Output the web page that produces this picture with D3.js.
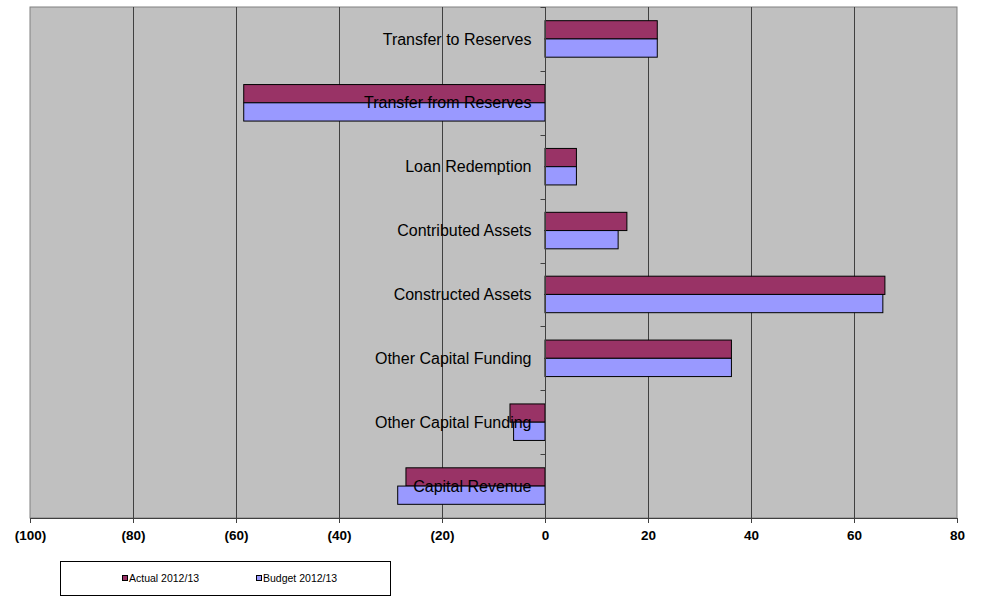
<!DOCTYPE html>
<html>
<head>
<meta charset="utf-8">
<script src="https://cdn.jsdelivr.net/npm/d3@7"></script>
<style>
  body { margin: 0; background: #fff; }
  svg text { font-family: "Liberation Sans", Arial, sans-serif; }
</style>
</head>
<body>
<div id="chart"></div>
<script>
// chart data, top to bottom
const categories = [
  'Transfer to Reserves',
  'Transfer from Reserves',
  'Loan Redemption',
  'Contributed Assets',
  'Constructed Assets',
  'Other Capital Funding',
  'Other Capital Funding',
  'Capital Revenue',
];
const actual = [21.8, -58.5, 6.1, 15.9, 66.0, 36.2, -6.8, -27.0];
const budget = [21.8, -58.5, 6.1, 14.2, 65.6, 36.2, -6.1, -28.6];
const seriesNames = ['Actual 2012/13', 'Budget 2012/13'];
const seriesColors = ['#993366', '#9999FF'];
const xTicks = [-100, -80, -60, -40, -20, 0, 20, 40, 60, 80];

const width = 984;
const height = 597;
const plot = { left: 30, top: 7, right: 957, bottom: 518 };

const svg = d3.select('#chart').append('svg')
  .attr('width', width)
  .attr('height', height);

const x = d3.scaleLinear().domain([-100, 80]).range([plot.left, plot.right]);
const y = d3.scaleBand()
  .domain(categories.map((d, i) => i))
  .range([plot.top, plot.bottom]);
// two bars plus a 150% gap in each band
const barH = y.bandwidth() / 3.5;
const barOffset = (y.bandwidth() - 2 * barH) / 2;

svg.append('rect')
  .attr('x', plot.left)
  .attr('y', plot.top)
  .attr('width', plot.right - plot.left)
  .attr('height', plot.bottom - plot.top)
  .attr('fill', '#C0C0C0')
  .attr('stroke', '#808080')
  .attr('stroke-width', 1);

// vertical gridlines
svg.append('g')
  .selectAll('line')
  .data(xTicks.filter(t => t !== -100 && t !== 80))
  .enter().append('line')
  .attr('x1', d => Math.round(x(d)) + 0.5)
  .attr('x2', d => Math.round(x(d)) + 0.5)
  .attr('y1', plot.top)
  .attr('y2', plot.bottom)
  .attr('stroke', '#404040')
  .attr('stroke-width', 1);

// bars
const rows = categories.map((c, i) => ({ i, values: [actual[i], budget[i]] }));
const g = svg.append('g');
rows.forEach((row) => {
  row.values.forEach((v, s) => {
    const x0 = x(Math.min(0, v));
    const x1 = x(Math.max(0, v));
    g.append('rect')
      .attr('x', x0)
      .attr('y', y(row.i) + barOffset + s * barH)
      .attr('width', x1 - x0)
      .attr('height', barH)
      .attr('fill', seriesColors[s])
      .attr('stroke', '#000')
      .attr('stroke-width', 1);
  });
});

// category axis at zero
const zeroX = Math.round(x(0)) + 0.5;
svg.append('line')
  .attr('x1', zeroX).attr('x2', zeroX)
  .attr('y1', plot.top).attr('y2', plot.bottom)
  .attr('stroke', '#404040');

svg.append('g')
  .selectAll('line')
  .data(d3.range(categories.length))
  .enter().append('line')
  .attr('x1', zeroX - 5)
  .attr('x2', zeroX)
  .attr('y1', d => Math.round(y(d)) + 0.5)
  .attr('y2', d => Math.round(y(d)) + 0.5)
  .attr('stroke', '#404040');

svg.append('g')
  .selectAll('text')
  .data(categories)
  .enter().append('text')
  .attr('x', zeroX - 14)
  .attr('y', (d, i) => y(i) + y.bandwidth() / 2)
  .attr('dy', '0.35em')
  .attr('text-anchor', 'end')
  .attr('font-size', 16)
  .attr('fill', '#000')
  .text(d => d);

// value axis
const xAxis = d3.axisBottom(x)
  .tickValues(xTicks)
  .tickSize(5)
  .tickPadding(7)
  .tickFormat(d => (d < 0 ? `(${-d})` : `${d}`));

const ax = svg.append('g')
  .attr('transform', `translate(0,${plot.bottom})`)
  .call(xAxis);
ax.select('.domain').attr('stroke', '#404040');
ax.selectAll('.tick line').attr('stroke', '#404040');
ax.selectAll('.tick text')
  .attr('font-family', '"Liberation Sans", Arial, sans-serif')
  .attr('font-size', 13.5)
  .attr('font-weight', 'bold')
  .attr('fill', '#000');

// legend
const legend = svg.append('g');
legend.append('rect')
  .attr('x', 60.5).attr('y', 561.5)
  .attr('width', 330).attr('height', 34)
  .attr('fill', '#fff')
  .attr('stroke', '#000');

const legendX = [122.5, 256.5];
seriesNames.forEach((name, s) => {
  legend.append('rect')
    .attr('x', legendX[s]).attr('y', 575.5)
    .attr('width', 5).attr('height', 5)
    .attr('fill', seriesColors[s])
    .attr('stroke', '#000');
  legend.append('text')
    .attr('x', legendX[s] + 6.5)
    .attr('y', 578)
    .attr('dy', '0.35em')
    .attr('font-size', 10.5)
    .attr('fill', '#000')
    .text(name);
});
</script>
</body>
</html>
